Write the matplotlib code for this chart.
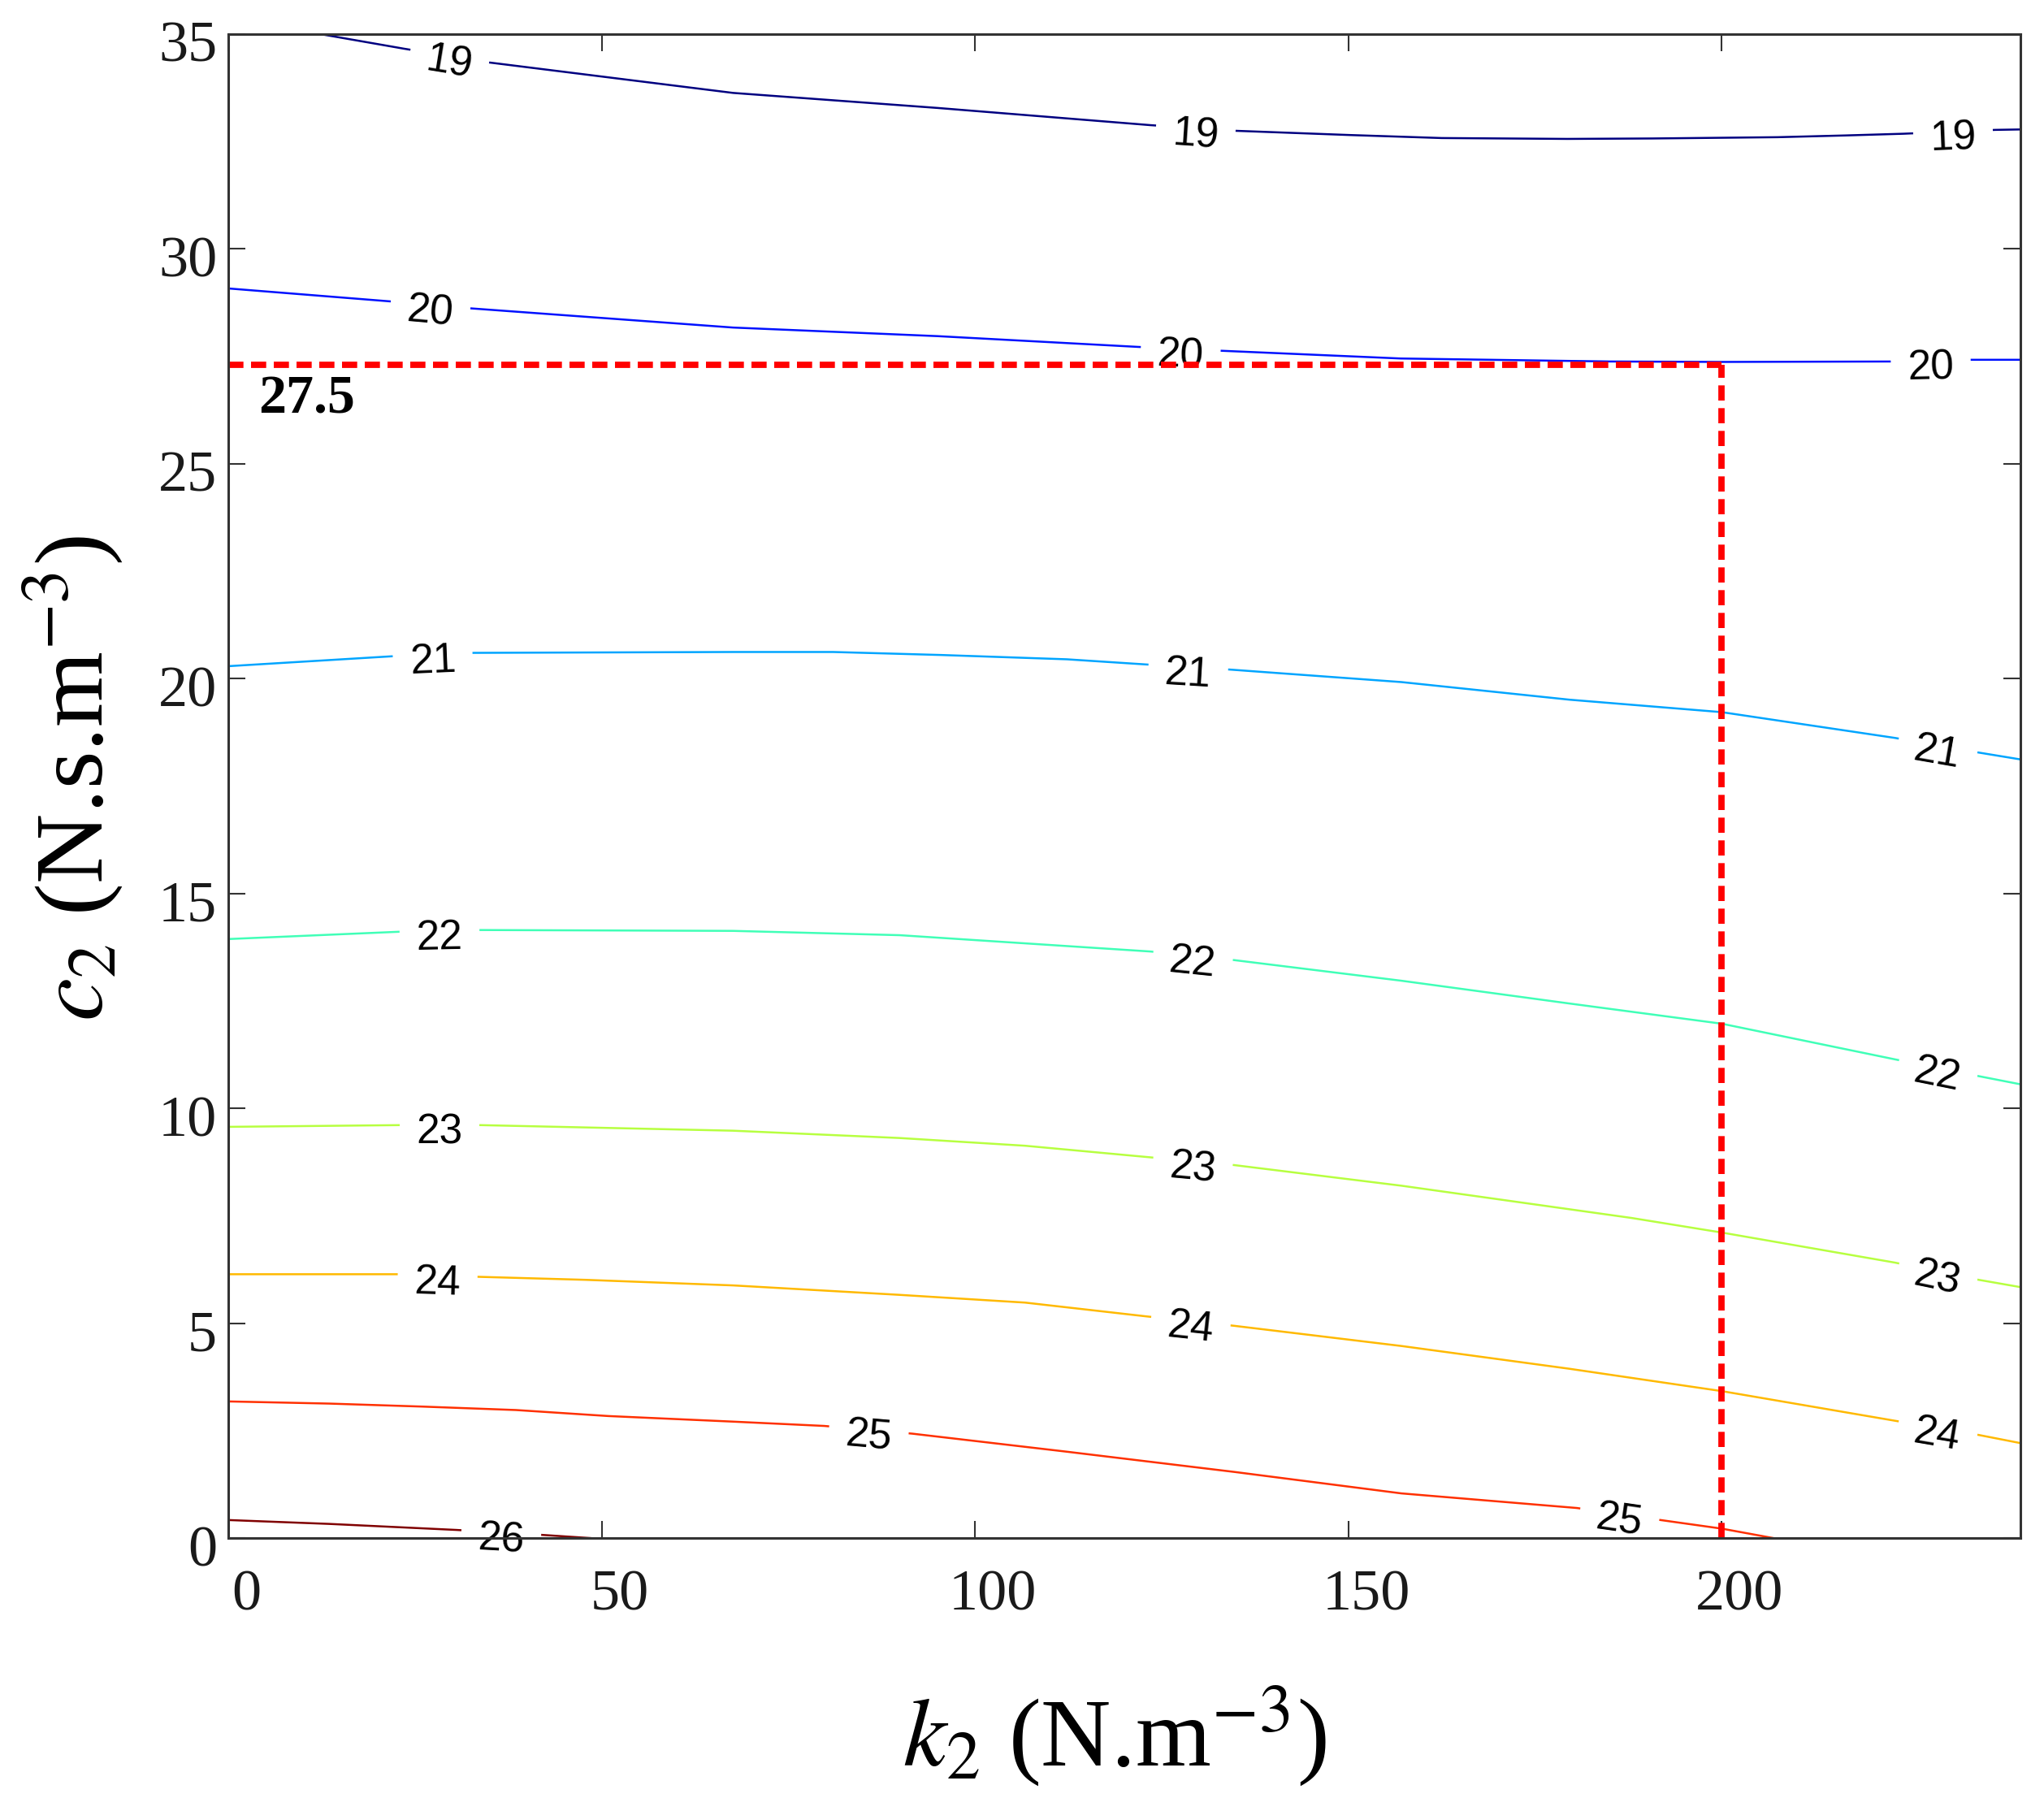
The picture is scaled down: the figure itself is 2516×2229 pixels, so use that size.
import matplotlib.pyplot as plt
import matplotlib.cm as cm
import matplotlib.transforms as mtransforms
import numpy as np

plt.rcParams['font.family'] = 'serif'
plt.rcParams['font.serif'] = ['Liberation Serif', 'DejaVu Serif']
plt.rcParams['mathtext.fontset'] = 'stix'

# contour levels
levels = [19, 20, 21, 22, 23, 24, 25, 26]

# contour lines: k2 (x) and c2 (y) per level
k2_19 = [12.3, 23.5, 34.4, 67.6, 95.0, 123.5, 134.7, 150.2, 162.5, 179.3, 190.7, 207.5, 216.5, 224.3, 236.6, 240.0]
c2_19 = [35.0, 34.66, 34.35, 33.63, 33.28, 32.88, 32.75, 32.65, 32.58, 32.56, 32.57, 32.60, 32.64, 32.68, 32.77, 32.78]

k2_20 = [0.0, 21.6, 32.2, 67.6, 95.0, 121.8, 133.0, 157.0, 185.0, 200.0, 223.0, 232.8, 240.0]
c2_20 = [29.08, 28.78, 28.62, 28.17, 27.97, 27.72, 27.63, 27.45, 27.38, 27.37, 27.38, 27.42, 27.42]

k2_21 = [0.0, 21.9, 32.9, 67.6, 81.0, 95.5, 112.3, 122.9, 134.2, 157.1, 179.6, 200.0, 223.2, 234.4, 240.0]
c2_21 = [20.29, 20.52, 20.60, 20.62, 20.62, 20.55, 20.45, 20.33, 20.21, 19.92, 19.51, 19.22, 18.62, 18.28, 18.12]

k2_22 = [0.0, 22.9, 33.8, 67.6, 89.9, 106.7, 123.5, 134.7, 157.1, 179.6, 200.0, 223.2, 234.4, 240.0]
c2_22 = [13.94, 14.11, 14.15, 14.13, 14.03, 13.84, 13.65, 13.45, 12.97, 12.44, 11.97, 11.14, 10.75, 10.56]

k2_23 = [0.0, 22.9, 33.8, 67.6, 89.9, 106.7, 123.5, 134.7, 157.1, 187.9, 200.0, 223.2, 234.4, 240.0]
c2_23 = [9.57, 9.61, 9.61, 9.48, 9.31, 9.13, 8.86, 8.68, 8.20, 7.45, 7.11, 6.41, 6.01, 5.84]

k2_24 = [0.0, 22.6, 33.5, 47.8, 67.6, 89.9, 106.7, 122.9, 134.7, 157.1, 179.6, 200.0, 223.2, 234.4, 240.0]
c2_24 = [6.14, 6.14, 6.08, 6.01, 5.88, 5.66, 5.48, 5.16, 4.94, 4.47, 3.94, 3.42, 2.73, 2.40, 2.21]

k2_25 = [0.0, 13.5, 26.0, 38.5, 50.9, 67.6, 79.8, 91.6, 112.3, 134.7, 157.1, 180.6, 191.8, 200.0, 206.9]
c2_25 = [3.18, 3.13, 3.06, 2.98, 2.84, 2.71, 2.61, 2.43, 2.01, 1.54, 1.04, 0.70, 0.42, 0.22, 0.0]

k2_26 = [0.0, 13.5, 30.5, 41.5, 48.5]
c2_26 = [0.42, 0.33, 0.19, 0.08, 0.0]

# k2 positions of the inline labels
lab_19 = [29.5, 129.5, 231.0]
lab_20 = [27.0, 127.5, 228.0]
lab_21 = [27.4, 128.5, 228.8]
lab_22 = [28.3, 129.1, 228.8]
lab_23 = [28.3, 129.1, 228.8]
lab_24 = [28.0, 128.8, 228.8]
lab_25 = [85.7, 186.2]
lab_26 = [36.5]

# optimum marked with the red dashed lines
k2_opt = 200
c2_opt = 27.3
c2_opt_text = '27.5'

xs = [k2_19, k2_20, k2_21, k2_22, k2_23, k2_24, k2_25, k2_26]
ys = [c2_19, c2_20, c2_21, c2_22, c2_23, c2_24, c2_25, c2_26]
labs = [lab_19, lab_20, lab_21, lab_22, lab_23, lab_24, lab_25, lab_26]

fig = plt.figure(figsize=(25.16, 22.29), dpi=100)
ax = fig.add_axes([0.1117, 0.1507, 0.8768, 0.8305])
ax.set_xlim(0, 240)
ax.set_ylim(0, 35)

colors = cm.jet(np.linspace(0, 1, len(levels)))
down = mtransforms.ScaledTranslation(0, -9 / 100, fig.dpi_scale_trans)

for i, lev in enumerate(levels):
    x = np.array(xs[i])
    y = np.array(ys[i])
    ax.plot(x, y, color=colors[i], lw=1.8, zorder=2)

    # inline labels, rotated along the line
    for xl in labs[i]:
        yl = np.interp(xl, x, y)
        p1 = ax.transData.transform((xl - 4, np.interp(xl - 4, x, y)))
        p2 = ax.transData.transform((xl + 4, np.interp(xl + 4, x, y)))
        ang = np.degrees(np.arctan2(p2[1] - p1[1], p2[0] - p1[0]))
        ax.text(xl, yl, str(lev), family='Liberation Sans', fontsize=37,
                ha='center', va='center', rotation=ang, rotation_mode='anchor',
                transform=ax.transData + down, clip_on=False, zorder=3,
                bbox=dict(boxstyle='square,pad=0.4', fc='white', ec='none'))

# red dashed guide lines
ax.plot([0, k2_opt], [c2_opt, c2_opt], color='red', lw=5.6, dashes=(2.4, 1.2), zorder=6)
ax.plot([k2_opt, k2_opt], [0, c2_opt], color='red', lw=5.6, dashes=(2.4, 1.2), zorder=6)
ax.text(4.0, 26.17, c2_opt_text, fontsize=49, fontweight='bold', ha='left', va='baseline', zorder=6)

ax.set_xticks([0, 50, 100, 150, 200])
ax.set_yticks([0, 5, 10, 15, 20, 25, 30, 35])
ax.tick_params(direction='in', length=15, width=1.5, color='#333333',
               top=True, right=True, labelsize=52, labelcolor='#1a1a1a')
ax.tick_params(axis='x', pad=28)
ax.tick_params(axis='y', pad=10)

# labels in the original sit a little off their ticks
xoff = mtransforms.ScaledTranslation(22 / 100, 0, fig.dpi_scale_trans)
yoff = mtransforms.ScaledTranslation(0, -9 / 100, fig.dpi_scale_trans)
for lab in ax.get_xticklabels():
    lab.set_transform(lab.get_transform() + xoff)
for lab in ax.get_yticklabels():
    lab.set_transform(lab.get_transform() + yoff)

for s in ax.spines.values():
    s.set_linewidth(2.2)
    s.set_color('#333333')
    s.set_zorder(7)

fig.text(1372 / 2516, 1 - 2137 / 2229, r'$k_2$ (N.m$^{-3}$)', fontsize=86,
         ha='center', va='center')
fig.text(90 / 2516, 1 - 958 / 2229, r'$c_2$ (N.s.m$^{-3}$)', fontsize=86,
         ha='center', va='center', rotation=90)

plt.savefig('out.png', dpi=100)
